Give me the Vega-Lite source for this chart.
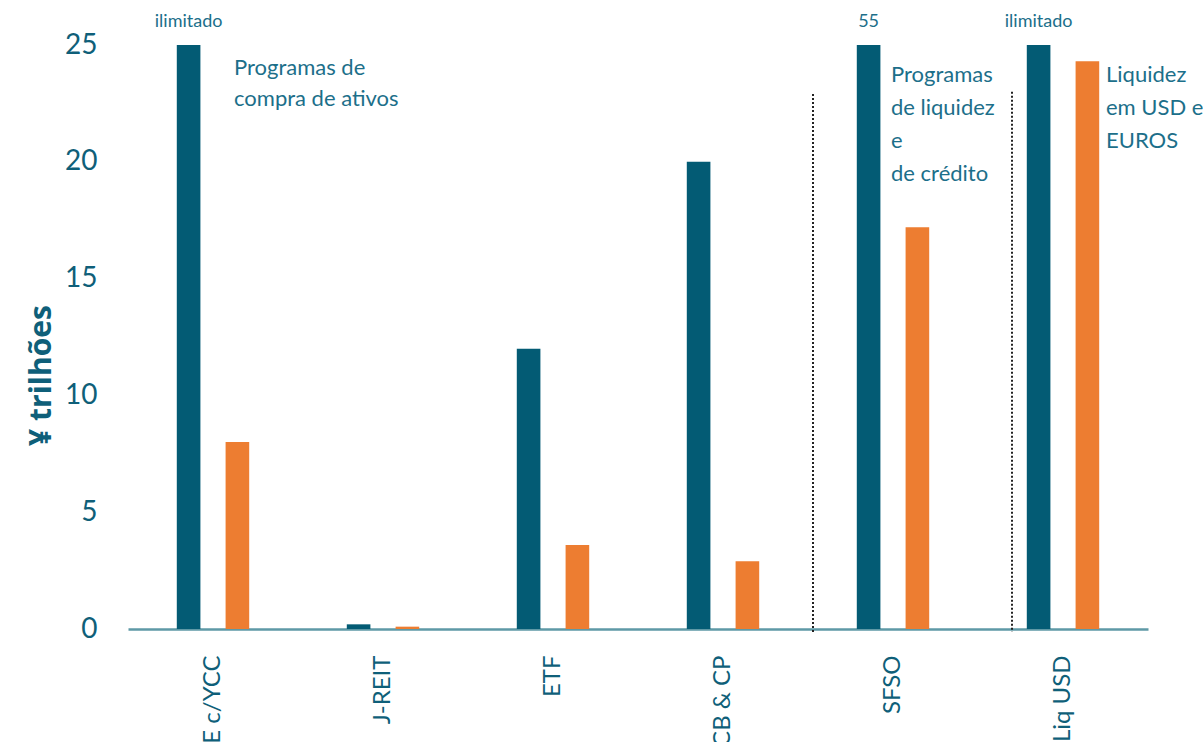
{
  "$schema": "https://vega.github.io/schema/vega-lite/v6.json",
  "width": 1020,
  "height": 584,
  "autosize": {"type": "none"},
  "padding": {"left": 128, "top": 45, "right": 55, "bottom": 113},
  "background": "white",
  "config": {"view": {"stroke": null}, "font": "Lato"},
  "datasets": {
    "programas": [
      {"programa": "QQE c/YCC", "serie": "Limite", "valor": 25, "rotulo": "ilimitado"},
      {"programa": "QQE c/YCC", "serie": "Utilizado", "valor": 8.0},
      {"programa": "J-REIT", "serie": "Limite", "valor": 0.2},
      {"programa": "J-REIT", "serie": "Utilizado", "valor": 0.1},
      {"programa": "ETF", "serie": "Limite", "valor": 12},
      {"programa": "ETF", "serie": "Utilizado", "valor": 3.6},
      {"programa": "CB & CP", "serie": "Limite", "valor": 20},
      {"programa": "CB & CP", "serie": "Utilizado", "valor": 2.9},
      {"programa": "SFSO", "serie": "Limite", "valor": 55, "rotulo": "55"},
      {"programa": "SFSO", "serie": "Utilizado", "valor": 17.2},
      {"programa": "Liq USD", "serie": "Limite", "valor": 25, "rotulo": "ilimitado"},
      {"programa": "Liq USD", "serie": "Utilizado", "valor": 24.3}
    ]
  },
  "layer": [
    {
      "data": {"name": "programas"},
      "mark": {"type": "bar"},
      "encoding": {
        "x": {
          "field": "programa",
          "type": "nominal",
          "sort": null,
          "scale": {
            "domain": ["QQE c/YCC", "J-REIT", "ETF", "CB & CP", "SFSO", "Liq USD"],
            "paddingInner": 0,
            "paddingOuter": 0
          },
          "axis": {
            "title": null,
            "labelAngle": -90,
            "labelFontSize": 24,
            "labelColor": "#0f5f79",
            "labelPadding": 26,
            "ticks": false,
            "tickSize": 0,
            "domainColor": "#5e99a6",
            "domainWidth": 2.5
          }
        },
        "xOffset": {
          "field": "serie",
          "type": "nominal",
          "scale": {"domain": ["Limite", "Utilizado"], "paddingInner": 0.516, "paddingOuter": 1.05}
        },
        "y": {
          "field": "valor",
          "type": "quantitative",
          "scale": {"domain": [0, 25], "clamp": true, "nice": false},
          "axis": {
            "title": "¥ trilhões",
            "values": [0, 5, 10, 15, 20, 25],
            "grid": false,
            "domain": false,
            "ticks": false,
            "tickSize": 0,
            "labelPadding": 31,
            "labelFontSize": 28,
            "labelColor": "#0f5f79",
            "titleFont": "Open Sans",
            "titleFontSize": 30,
            "titleFontWeight": "bold",
            "titleColor": "#0f5f79",
            "titlePadding": 8,
            "titleY": 330
          }
        },
        "color": {
          "field": "serie",
          "type": "nominal",
          "scale": {"domain": ["Limite", "Utilizado"], "range": ["#035b74", "#ed7d31"]},
          "legend": null
        }
      }
    },
    {
      "data": {"name": "programas"},
      "transform": [{"filter": "datum.rotulo != null"}],
      "mark": {"type": "text", "fontSize": 18, "color": "#1c6f8a", "baseline": "alphabetic", "dy": -18},
      "encoding": {
        "x": {"field": "programa", "type": "nominal"},
        "xOffset": {"field": "serie", "type": "nominal"},
        "y": {"field": "valor", "type": "quantitative"},
        "text": {"field": "rotulo", "type": "nominal"}
      }
    },
    {
      "data": {"values": [{"programa": "SFSO"}]},
      "mark": {"type": "rule", "strokeDash": [2, 2], "strokeWidth": 2, "color": "#222222", "xOffset": 5, "y2Offset": 3},
      "encoding": {
        "x": {"field": "programa", "type": "nominal", "bandPosition": 0},
        "y": {"datum": 22.9, "type": "quantitative"},
        "y2": {"datum": 0}
      }
    },
    {
      "data": {"values": [{"programa": "Liq USD"}]},
      "mark": {"type": "rule", "strokeDash": [2, 2], "strokeWidth": 2, "color": "#222222", "y2Offset": 3},
      "encoding": {
        "x": {"field": "programa", "type": "nominal", "bandPosition": 0.2},
        "y": {"datum": 23.0, "type": "quantitative"},
        "y2": {"datum": 0}
      }
    },
    {
      "data": {"values": [{"programa": "QQE c/YCC", "texto": "Programas de|compra de ativos"}]},
      "mark": {"type": "text", "align": "left", "baseline": "alphabetic", "fontSize": 22, "lineHeight": 31, "lineBreak": "|", "color": "#1c6f8a", "dx": 21},
      "encoding": {
        "x": {"field": "programa", "type": "nominal"},
        "y": {"datum": 23.7, "type": "quantitative"},
        "text": {"field": "texto", "type": "nominal"}
      }
    },
    {
      "data": {"values": [{"programa": "SFSO", "texto": "Programas|de liquidez|e|de crédito"}]},
      "mark": {"type": "text", "align": "left", "baseline": "alphabetic", "fontSize": 22, "lineHeight": 33, "lineBreak": "|", "color": "#1c6f8a", "dx": -2},
      "encoding": {
        "x": {"field": "programa", "type": "nominal"},
        "y": {"datum": 23.4, "type": "quantitative"},
        "text": {"field": "texto", "type": "nominal"}
      }
    },
    {
      "data": {"values": [{"programa": "Liq USD", "texto": "Liquidez|em USD e|EUROS"}]},
      "mark": {"type": "text", "align": "left", "baseline": "alphabetic", "fontSize": 22, "lineHeight": 33, "lineBreak": "|", "color": "#1c6f8a", "dx": 43},
      "encoding": {
        "x": {"field": "programa", "type": "nominal"},
        "y": {"datum": 23.4, "type": "quantitative"},
        "text": {"field": "texto", "type": "nominal"}
      }
    }
  ]
}
